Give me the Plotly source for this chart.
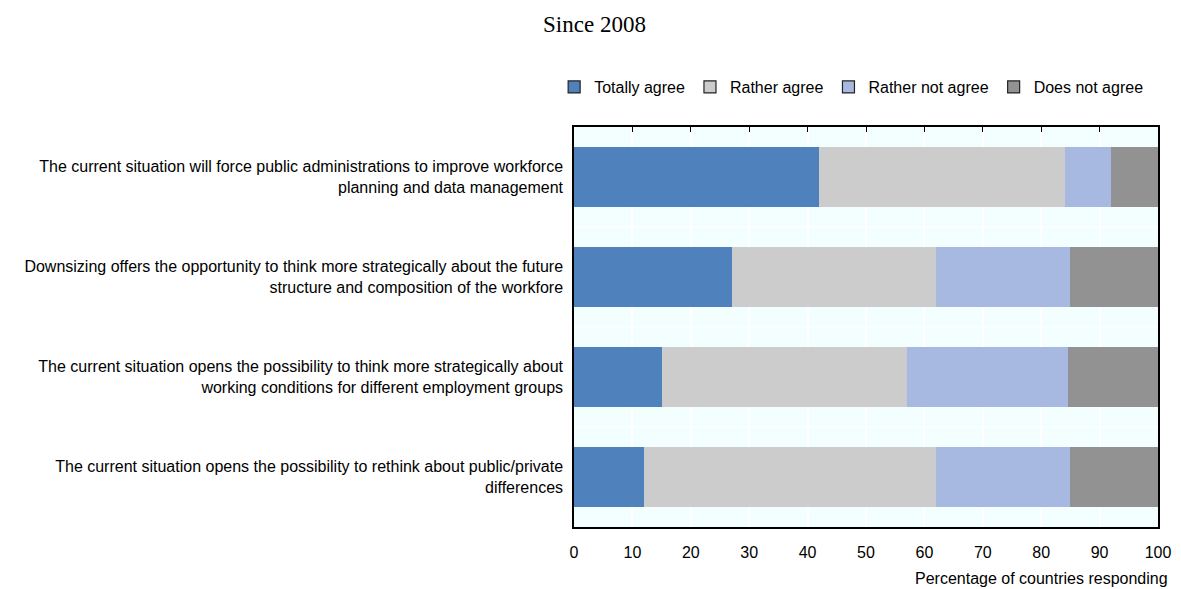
import plotly.graph_objects as go

categories = [
    "The current situation will force public administrations to improve workforce<br>planning and data management",
    "Downsizing offers the opportunity to think more strategically about the future<br>structure and composition of the workfore",
    "The current situation opens the possibility to think more strategically about<br>working conditions for different employment groups",
    "The current situation opens the possibility to rethink about public/private<br>differences",
]
series_names = ["Totally agree", "Rather agree", "Rather not agree", "Does not agree"]
totally_agree = [42, 27, 15, 12]
rather_agree = [42, 35, 42, 50]
rather_not_agree = [8, 23, 27.6, 23]
does_not_agree = [8, 15, 15.4, 15]
tick_values = list(range(0, 101, 10))

colors = ["#4F81BD", "#CCCCCC", "#A7B8E1", "#929292"]
values = [totally_agree, rather_agree, rather_not_agree, does_not_agree]

fig = go.Figure()
for name, vals, col in zip(series_names, values, colors):
    fig.add_trace(go.Bar(
        y=categories, x=vals, name=name, orientation="h", showlegend=False,
        legendgroup=name, marker=dict(color=col, line=dict(width=0)),
    ))
# legend entries with dark outlined boxes (no data drawn)
for name, col in zip(series_names, colors):
    fig.add_trace(go.Bar(
        y=[None], x=[None], name=name, orientation="h", legendgroup=name,
        marker=dict(color=col, line=dict(color="#222222", width=1.2)),
    ))
# invisible trace that carries the top axis ticks
fig.add_trace(go.Scatter(x=[0, 100], y=[categories[0], categories[0]], xaxis="x2",
                         mode="markers", marker=dict(opacity=0), showlegend=False,
                         hoverinfo="skip"))

for yb in [0.5, 1.5, 2.5]:
    fig.add_shape(type="line", xref="paper", x0=0, x1=1, yref="y", y0=yb, y1=yb,
                  line=dict(color="white", width=1.5), layer="below")

fig.update_layout(
    width=1173, height=581,
    barmode="stack", bargap=0.4,
    plot_bgcolor="#F3FFFF", paper_bgcolor="white",
    margin=dict(l=566, r=23, t=119, b=62, autoexpand=False),
    font=dict(family="Liberation Sans, Arial, sans-serif", size=16, color="black"),
    title=dict(text="Since 2008", x=0.5, xanchor="center", y=0.972, yanchor="middle",
               font=dict(family="Liberation Serif, Times New Roman, serif", size=23, color="black")),
    legend=dict(orientation="h", x=-0.034, xanchor="left",
                y=1.1, yanchor="middle",
                font=dict(size=16), traceorder="normal", itemwidth=30,
                bgcolor="rgba(0,0,0,0)"),
    xaxis=dict(range=[0, 100], tickvals=tick_values, showgrid=True, gridcolor="white",
               gridwidth=1.5, zeroline=False, showline=True, linecolor="black", linewidth=1.5,
               mirror=True, ticks="", tickfont=dict(size=16), fixedrange=True,
               ticklabelstandoff=10),
    xaxis2=dict(range=[0, 100], tickvals=tick_values, overlaying="x", side="top",
                showticklabels=False, ticks="inside", ticklen=5, tickcolor="black",
                showgrid=False, zeroline=False, showline=False),
    yaxis=dict(autorange="reversed", showgrid=False, ticks="", showline=True,
               linecolor="black", linewidth=1.5, mirror=True, tickfont=dict(size=16),
               ticklabelstandoff=6),
    annotations=[dict(text="Percentage of countries responding", xref="paper", yref="paper",
                      x=1.02, xanchor="right", y=-0.1275, yanchor="middle", showarrow=False,
                      font=dict(size=16))],
)

fig.write_html("out.html")
